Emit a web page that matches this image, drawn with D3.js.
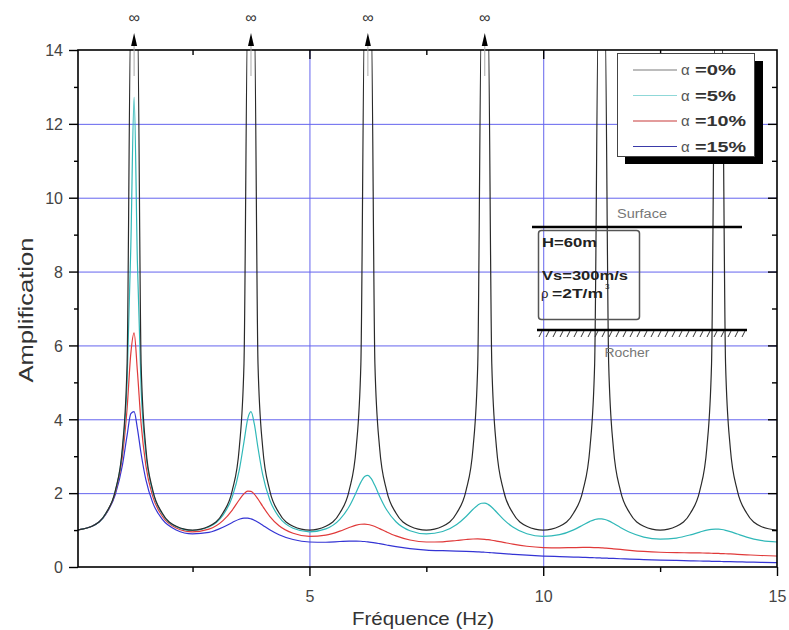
<!DOCTYPE html>
<html><head><meta charset="utf-8">
<script src="https://cdn.jsdelivr.net/npm/d3@7"></script>
<style>body{margin:0;background:#fff}svg{display:block;font-family:"Liberation Sans",Arial,sans-serif}</style>
</head><body><svg id="c" width="789" height="630"></svg>
<script>
// ---- data ----
const freq = [
 0,0.35,0.65,0.85,1.0,1.1,1.18,1.25,1.32,1.4,1.5,1.65,1.85,2.15,
 2.5,2.85,3.15,3.35,3.5,3.6,3.68,3.75,3.82,3.9,4.0,4.15,4.35,4.65,
 5.0,5.35,5.65,5.85,6.0,6.1,6.18,6.25,6.32,6.4,6.5,6.65,6.85,7.15,
 7.5,7.85,8.15,8.35,8.5,8.6,8.68,8.75,8.82,8.9,9.0,9.15,9.35,9.65,
 10.0,10.35,10.65,10.85,11.0,11.1,11.18,11.25,11.32,11.4,11.5,11.65,11.85,12.15,
 12.5,12.85,13.15,13.35,13.5,13.6,13.68,13.75,13.82,13.9,14.0,14.15,14.35,14.65,
 15.0];
const amp0 = [
 1.000,1.105,1.461,2.076,3.236,5.5,15,15,15,5.5,3.236,2.076,1.461,1.105,
 1.000,1.105,1.461,2.076,3.236,5.5,15,15,15,5.5,3.236,2.076,1.461,1.105,
 1.000,1.105,1.461,2.076,3.236,5.5,15,15,15,5.5,3.236,2.076,1.461,1.105,
 1.000,1.105,1.461,2.076,3.236,5.5,15,15,15,5.5,3.236,2.076,1.461,1.105,
 1.000,1.105,1.461,2.076,3.236,5.5,15,15,15,5.5,3.236,2.076,1.461,1.105,
 1.000,1.105,1.461,2.076,3.236,5.5,15,15,15,5.5,3.236,2.076,1.461,1.105,
 1.000];
const amp5 = [
 1.000,1.105,1.458,2.063,3.171,5.007,8.696,12.719,8.272,4.830,3.095,2.029,1.440,1.093,
 0.988,1.084,1.403,1.900,2.629,3.387,4.012,4.205,3.880,3.222,2.500,1.821,1.354,1.050,
 0.953,1.034,1.291,1.637,2.022,2.298,2.453,2.482,2.398,2.205,1.918,1.549,1.226,0.983,
 0.898,0.961,1.151,1.369,1.564,1.675,1.726,1.730,1.696,1.618,1.489,1.290,1.081,0.900,
 0.831,0.875,1.006,1.137,1.236,1.285,1.304,1.303,1.286,1.248,1.183,1.072,0.939,0.810,
 0.755,0.784,0.870,0.946,0.998,1.020,1.027,1.025,1.015,0.994,0.958,0.893,0.809,0.719,
 0.677];
const amp10 = [
 1.000,1.104,1.450,2.026,2.997,4.290,5.786,6.340,5.309,3.881,2.758,1.905,1.382,1.058,
 0.953,1.025,1.256,1.543,1.821,1.984,2.053,2.046,1.975,1.841,1.644,1.374,1.119,0.913,
 0.831,0.863,0.970,1.068,1.132,1.157,1.161,1.151,1.130,1.095,1.040,0.950,0.842,0.732,
 0.677,0.682,0.718,0.745,0.758,0.759,0.756,0.749,0.739,0.725,0.703,0.667,0.619,0.562,
 0.527,0.519,0.526,0.529,0.529,0.526,0.522,0.517,0.511,0.504,0.493,0.476,0.452,0.422,
 0.399,0.388,0.384,0.381,0.377,0.373,0.370,0.367,0.363,0.359,0.353,0.343,0.330,0.312,
 0.297];
const amp15 = [
 1.000,1.102,1.438,1.969,2.758,3.564,4.152,4.205,3.756,3.066,2.373,1.736,1.296,1.004,
 0.898,0.938,1.075,1.207,1.294,1.324,1.323,1.303,1.268,1.213,1.132,1.010,0.875,0.744,
 0.677,0.670,0.690,0.702,0.703,0.698,0.690,0.680,0.668,0.653,0.631,0.596,0.551,0.498,
 0.459,0.441,0.431,0.424,0.416,0.410,0.405,0.399,0.393,0.386,0.377,0.362,0.344,0.319,
 0.297,0.281,0.269,0.261,0.255,0.250,0.247,0.243,0.240,0.236,0.231,0.224,0.214,0.201,
 0.188,0.177,0.168,0.162,0.158,0.155,0.153,0.151,0.149,0.146,0.143,0.139,0.134,0.126,
 0.118];
const yTickValues = [0,2,4,6,8,10,12,14];
const yMinorValues = [1,3,5,7,9,11,13];
const xTickValues = [5,10,15];
const xMinorValues = [2.5,7.5,12.5];
const yGridValues = [2,4,6,8,10,12];
const xGridValues = [5,10];
const infinityPeaks = [1.25,3.75,6.25,8.75];
const legendLabels = ["=0%","=5%","=10%","=15%"];
const seriesColors = ["#2a2a2a","#30b8b8","#e03a3a","#3434d4"];
const legendColors = ["#7a7a7a","#8fd8d8","#c83a3a","#3a3aa8"];

// ---- chart ----
const svg = d3.select("#c");
const L=78, R=777, T=50, B=567;
const x = d3.scaleLinear().domain([0.05,15]).range([L,R]);
const y = d3.scaleLinear().domain([0,14]).range([B,T]);

svg.append("defs").append("clipPath").attr("id","clip")
  .append("rect").attr("x",L).attr("y",T).attr("width",R-L).attr("height",B-T);

// grid
const grid = svg.append("g").attr("stroke","#6464ee").attr("stroke-width",1);
grid.selectAll("line.h").data(yGridValues).join("line").attr("class","h")
  .attr("x1",L).attr("x2",R).attr("y1",d=>y(d)+0.5).attr("y2",d=>y(d)+0.5);
grid.selectAll("line.v").data(xGridValues).join("line").attr("class","v")
  .attr("y1",T).attr("y2",B).attr("x1",d=>x(d)+0.5).attr("x2",d=>x(d)+0.5);

// curves
const series = [amp15, amp10, amp5, amp0];
const sColors = [seriesColors[3], seriesColors[2], seriesColors[1], seriesColors[0]];
const line = d3.line().x((d,i)=>x(freq[i])).y(d=>y(d)).curve(d3.curveMonotoneX);
const cg = svg.append("g").attr("clip-path","url(#clip)");
series.forEach((s,k)=>{
  cg.append("path").attr("d",line(s)).attr("fill","none")
    .attr("stroke",sColors[k]).attr("stroke-width",1.2);
});

// axes
function styleAxis(g){ g.select(".domain").remove(); g.selectAll("line").attr("stroke","#000").attr("stroke-width",1.4);
  g.selectAll("text").attr("fill","#444").style("font-size","16px").style("font-family","'Liberation Sans',Arial,sans-serif"); }
svg.append("g").attr("transform",`translate(${L},0)`)
  .call(d3.axisLeft(y).tickValues(yTickValues).tickSize(9).tickPadding(6).tickFormat(d3.format("d"))).call(styleAxis)
  .selectAll("text").attr("dy","0.36em");
svg.append("g").attr("transform",`translate(${L},0)`)
  .call(d3.axisLeft(y).tickValues(yMinorValues).tickSize(4).tickFormat("")).call(styleAxis);
svg.append("g").attr("transform",`translate(${R},0)`)
  .call(d3.axisLeft(y).tickValues(yTickValues.slice(1,-1)).tickSize(9).tickFormat("")).call(styleAxis);
svg.append("g").attr("transform",`translate(${R},0)`)
  .call(d3.axisLeft(y).tickValues(yMinorValues).tickSize(5).tickFormat("")).call(styleAxis);
svg.append("g").attr("transform",`translate(0,${B})`)
  .call(d3.axisBottom(x).tickValues(xTickValues).tickSize(9).tickPadding(15).tickFormat(d3.format("d"))).call(styleAxis);
svg.append("g").attr("transform",`translate(0,${B})`)
  .call(d3.axisBottom(x).tickValues(xMinorValues).tickSize(5).tickFormat("")).call(styleAxis);
svg.append("g").attr("transform",`translate(0,${T})`)
  .call(d3.axisBottom(x).tickValues(xGridValues).tickSize(9).tickFormat("")).call(styleAxis);
svg.append("g").attr("transform",`translate(0,${T})`)
  .call(d3.axisBottom(x).tickValues(xMinorValues).tickSize(5).tickFormat("")).call(styleAxis);

svg.append("rect").attr("x",L).attr("y",T).attr("width",R-L).attr("height",B-T)
  .attr("fill","none").attr("stroke","#000").attr("stroke-width",1.6);

// axis titles
svg.append("text").attr("x",423).attr("y",625).attr("text-anchor","middle")
  .attr("fill","#333").style("font-size","19px").attr("textLength",142).attr("lengthAdjust","spacingAndGlyphs")
  .text("Fréquence (Hz)");
svg.append("text").attr("transform","translate(33,310) rotate(-90)").attr("text-anchor","middle")
  .attr("fill","#333").style("font-size","20px").attr("textLength",145).attr("lengthAdjust","spacingAndGlyphs")
  .text("Amplification");

// infinity arrows
const ig = svg.append("g");
infinityPeaks.forEach(p=>{
  const px = x(p);
  ig.append("line").attr("x1",px).attr("x2",px).attr("y1",40).attr("y2",76).attr("stroke","#aaa").attr("stroke-width",1);
  ig.append("path").attr("d",`M${px},33L${px-3},46L${px+3},46Z`).attr("fill","#000");
  ig.append("text").attr("x",px).attr("y",23).attr("text-anchor","middle").attr("fill","#333")
    .style("font-size","16px").text("∞");
});

// inset sketch
const ins = svg.append("g");
ins.append("text").attr("x",642).attr("y",218).attr("text-anchor","middle").attr("fill","#777")
  .style("font-size","12px").attr("textLength",50).attr("lengthAdjust","spacingAndGlyphs").text("Surface");
ins.append("line").attr("x1",532).attr("x2",742).attr("y1",227).attr("y2",227).attr("stroke","#000").attr("stroke-width",2.5);
ins.append("rect").attr("x",538.5).attr("y",230.5).attr("width",101).attr("height",89).attr("rx",3)
  .attr("fill","none").attr("stroke","#555").attr("stroke-width",1.5);
ins.append("text").attr("x",542).attr("y",247).attr("fill","#222").style("font-size","13px").style("font-weight","bold")
  .attr("textLength",55).attr("lengthAdjust","spacingAndGlyphs").text("H=60m");
ins.append("text").attr("x",542).attr("y",280).attr("fill","#222").style("font-size","13px").style("font-weight","bold")
  .attr("textLength",86).attr("lengthAdjust","spacingAndGlyphs").text("Vs=300m/s");
ins.append("text").attr("x",541).attr("y",298).attr("fill","#222").style("font-size","13px").text("ρ");
ins.append("text").attr("x",552).attr("y",298).attr("fill","#222").style("font-size","13px").style("font-weight","bold")
  .attr("textLength",51).attr("lengthAdjust","spacingAndGlyphs").text("=2T/m");
ins.append("text").attr("x",605).attr("y",289).attr("fill","#222").style("font-size","8px").text("3");
ins.append("line").attr("x1",537).attr("x2",747).attr("y1",330).attr("y2",330).attr("stroke","#000").attr("stroke-width",2.5);
ins.selectAll("line.hatch").data(d3.range(539,747,7)).join("line").attr("class","hatch")
  .attr("x1",d=>d+3).attr("x2",d=>d).attr("y1",331).attr("y2",337).attr("stroke","#333").attr("stroke-width",1);
ins.append("text").attr("x",627).attr("y",357).attr("text-anchor","middle").attr("fill","#777")
  .style("font-size","12px").attr("textLength",45).attr("lengthAdjust","spacingAndGlyphs").text("Rocher");

// legend
const lg = svg.append("g");
lg.append("rect").attr("x",625).attr("y",61).attr("width",138).attr("height",103).attr("fill","#000");
lg.append("rect").attr("x",617.5).attr("y",53.5).attr("width",137).attr("height",103).attr("fill","#fff").attr("stroke","#444").attr("stroke-width",1);
legendLabels.forEach((lab,i)=>{
  const ly = 70 + i*25.5;
  lg.append("line").attr("x1",633).attr("x2",677).attr("y1",ly).attr("y2",ly).attr("stroke",legendColors[i]).attr("stroke-width",1.2);
  lg.append("text").attr("x",681).attr("y",ly+5).attr("fill","#555").style("font-size","15px").text("α");
  lg.append("text").attr("x",695).attr("y",ly+5).attr("fill","#333").style("font-size","14px").style("font-weight","bold")
    .attr("textLength", lab.length>3?51:41).attr("lengthAdjust","spacingAndGlyphs").text(lab);
});
</script></body></html>
